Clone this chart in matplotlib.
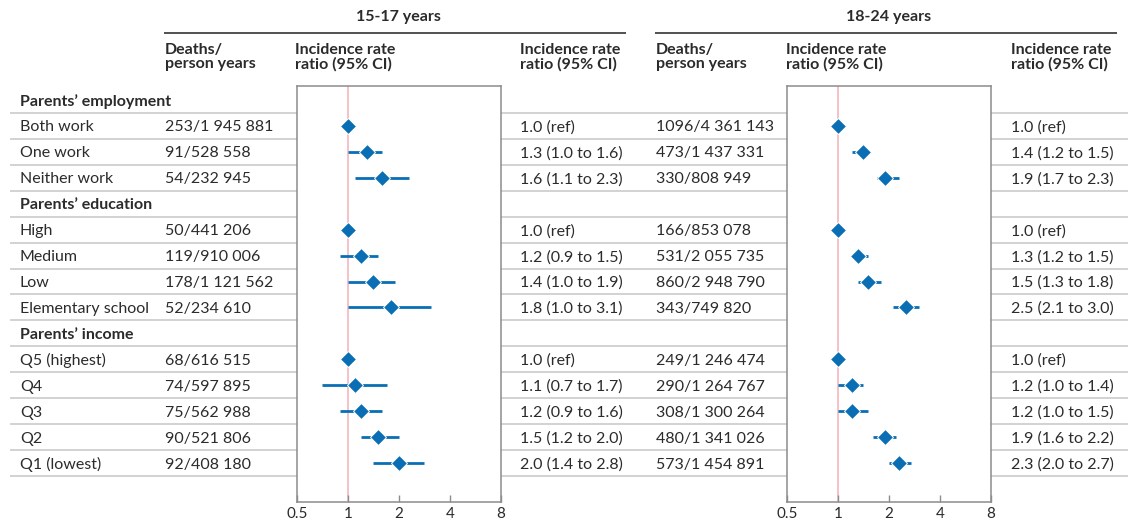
import matplotlib
matplotlib.use("Agg")
import matplotlib.pyplot as plt
import numpy as np

plt.rcParams['font.family'] = ['Lato', 'DejaVu Sans']

# ---------------- data ----------------
groups = ["Parents’ employment", "Parents’ education", "Parents’ income"]
categories = [
    ["Both work", "One work", "Neither work"],
    ["High", "Medium", "Low", "Elementary school"],
    ["Q5 (highest)", "Q4", "Q3", "Q2", "Q1 (lowest)"],
]

deaths_1517 = ["253/1 945 881", "91/528 558", "54/232 945",
               "50/441 206", "119/910 006", "178/1 121 562", "52/234 610",
               "68/616 515", "74/597 895", "75/562 988", "90/521 806", "92/408 180"]
irr_1517 = [1.0, 1.3, 1.6, 1.0, 1.2, 1.4, 1.8, 1.0, 1.1, 1.2, 1.5, 2.0]
lo_1517 = [None, 1.0, 1.1, None, 0.9, 1.0, 1.0, None, 0.7, 0.9, 1.2, 1.4]
hi_1517 = [None, 1.6, 2.3, None, 1.5, 1.9, 3.1, None, 1.7, 1.6, 2.0, 2.8]
text_1517 = ["1.0 (ref)", "1.3 (1.0 to 1.6)", "1.6 (1.1 to 2.3)",
             "1.0 (ref)", "1.2 (0.9 to 1.5)", "1.4 (1.0 to 1.9)", "1.8 (1.0 to 3.1)",
             "1.0 (ref)", "1.1 (0.7 to 1.7)", "1.2 (0.9 to 1.6)", "1.5 (1.2 to 2.0)",
             "2.0 (1.4 to 2.8)"]

deaths_1824 = ["1096/4 361 143", "473/1 437 331", "330/808 949",
               "166/853 078", "531/2 055 735", "860/2 948 790", "343/749 820",
               "249/1 246 474", "290/1 264 767", "308/1 300 264", "480/1 341 026",
               "573/1 454 891"]
irr_1824 = [1.0, 1.4, 1.9, 1.0, 1.3, 1.5, 2.5, 1.0, 1.2, 1.2, 1.9, 2.3]
lo_1824 = [None, 1.2, 1.7, None, 1.2, 1.3, 2.1, None, 1.0, 1.0, 1.6, 2.0]
hi_1824 = [None, 1.5, 2.3, None, 1.5, 1.8, 3.0, None, 1.4, 1.5, 2.2, 2.7]
text_1824 = ["1.0 (ref)", "1.4 (1.2 to 1.5)", "1.9 (1.7 to 2.3)",
             "1.0 (ref)", "1.3 (1.2 to 1.5)", "1.5 (1.3 to 1.8)", "2.5 (2.1 to 3.0)",
             "1.0 (ref)", "1.2 (1.0 to 1.4)", "1.2 (1.0 to 1.5)", "1.9 (1.6 to 2.2)",
             "2.3 (2.0 to 2.7)"]

age_titles = ["15-17 years", "18-24 years"]
xticks = [0.5, 1, 2, 4, 8]
xtick_labels = ["0.5", "1", "2", "4", "8"]

# ---------------- layout ----------------
W, H = 1138, 524
fig = plt.figure(figsize=(W / 100, H / 100), dpi=100)
main = fig.add_axes([0, 0, 1, 1])
main.set_xlim(0, W)
main.set_ylim(H, 0)
main.axis("off")

TXT = "#2b2b2b"
BLUE = "#0a6eb4"
GRID = "#c6c6c6"
BOX = "#8c8c8c"
REF = "#f4b8bc"
FS = 11.5

row0 = 100.0
dy = 25.93
box_top, box_bot = 85.7, 501.7
boxes = [(297.0, 500.7), (787.3, 991.0)]

rows = []  # (kind, label, data_index)
k = 0
for g, cats in zip(groups, categories):
    rows.append(("group", g, None))
    for c in cats:
        rows.append(("item", c, k))
        k += 1
row_y = [row0 + i * dy for i in range(len(rows))]

# horizontal separators (skip inside plot boxes)
segs = [(10, boxes[0][0]), (boxes[0][1], boxes[1][0]), (boxes[1][1], 1128)]
for i in range(len(rows)):
    y = row_y[i] + dy / 2
    for a, b in segs:
        main.plot([a, b], [y, y], color=GRID, lw=1.1, solid_capstyle="butt", zorder=1)

# titles and underlines
for t, (cx, x0, x1) in zip(age_titles, [(398, 164, 626), (889, 655, 1117)]):
    main.text(cx, 17, t, ha="center", va="center", fontsize=FS, fontweight="bold", color=TXT)
    main.plot([x0, x1], [33, 33], color="#333333", lw=1.2, solid_capstyle="butt")

# column headers
hdr_y = 57
for x, t in [(165, "Deaths/\nperson years"), (295, "Incidence rate\nratio (95% CI)"),
             (520, "Incidence rate\nratio (95% CI)"), (656, "Deaths/\nperson years"),
             (786, "Incidence rate\nratio (95% CI)"), (1011, "Incidence rate\nratio (95% CI)")]:
    main.text(x, hdr_y, t, ha="left", va="center", fontsize=FS, fontweight="bold",
              color=TXT, linespacing=1.0)

# row texts
ty = 1.5
for (kind, label, idx), y in zip(rows, row_y):
    if kind == "group":
        main.text(20, y + ty, label, ha="left", va="center", fontsize=FS, fontweight="bold", color=TXT)
    else:
        main.text(20, y + ty, label, ha="left", va="center", fontsize=FS, color=TXT)
        main.text(165, y + ty, deaths_1517[idx], ha="left", va="center", fontsize=FS, color=TXT)
        main.text(520, y + ty, text_1517[idx], ha="left", va="center", fontsize=FS, color=TXT)
        main.text(656, y + ty, deaths_1824[idx], ha="left", va="center", fontsize=FS, color=TXT)
        main.text(1011, y + ty, text_1824[idx], ha="left", va="center", fontsize=FS, color=TXT)

# forest plots
series = [(irr_1517, lo_1517, hi_1517), (irr_1824, lo_1824, hi_1824)]
for (x0, x1), (est, lo, hi) in zip(boxes, series):
    ax = fig.add_axes([x0 / W, 1 - box_bot / H, (x1 - x0) / W, (box_bot - box_top) / H])
    ax.patch.set_alpha(0)
    ax.set_xscale("log", base=2)
    ax.set_xlim(0.5, 8)
    ax.set_ylim(box_bot, box_top)
    for s in ax.spines.values():
        s.set_color(BOX)
        s.set_linewidth(1.1)
    ax.axvline(1, color=REF, lw=1.2, zorder=1)
    for (kind, label, idx), y in zip(rows, row_y):
        if kind != "item":
            continue
        if lo[idx] is not None:
            ax.plot([lo[idx], hi[idx]], [y, y], color=BLUE, lw=2.0, solid_capstyle="butt", zorder=2)
        ax.plot([est[idx]], [y], marker="D", ms=8, color=BLUE, mec="white", mew=0.7, zorder=3)
    ax.set_yticks([])
    ax.set_xticks(xticks)
    ax.set_xticklabels(xtick_labels)
    ax.minorticks_off()
    ax.tick_params(axis="x", direction="in", length=5, width=1, color=BOX,
                   labelsize=11, labelcolor=TXT, pad=4)

fig.savefig("out.png", dpi=100)
